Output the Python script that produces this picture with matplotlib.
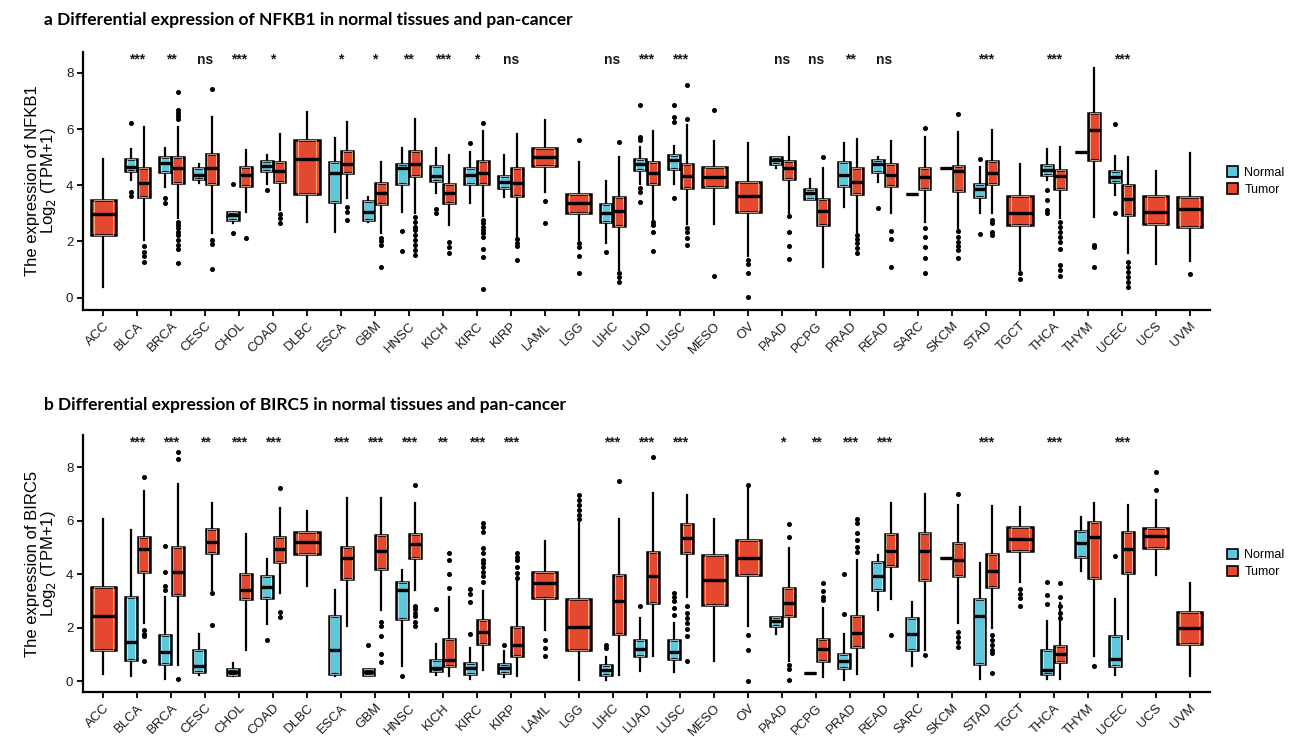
import matplotlib
matplotlib.use("Agg")
import matplotlib.pyplot as plt
from matplotlib.patches import Patch

CANCERS = ["ACC", "BLCA", "BRCA", "CESC", "CHOL", "COAD", "DLBC", "ESCA", "GBM", "HNSC",
           "KICH", "KIRC", "KIRP", "LAML", "LGG", "LIHC", "LUAD", "LUSC", "MESO", "OV",
           "PAAD", "PCPG", "PRAD", "READ", "SARC", "SKCM", "STAD", "TGCT", "THCA", "THYM",
           "UCEC", "UCS", "UVM"]

# ---- NFKB1 : (whislo, q1, median, q3, whishi) ----
NFKB1_TUMOR = {
    "ACC": (0.39, 2.22, 2.96, 3.46, 4.92), "BLCA": (2.05, 3.59, 4.09, 4.60, 6.08),
    "BRCA": (2.82, 4.09, 4.62, 4.99, 6.08), "CESC": (2.29, 4.03, 4.60, 5.11, 6.43),
    "CHOL": (3.03, 3.98, 4.36, 4.66, 5.25), "COAD": (3.12, 4.12, 4.50, 4.81, 5.81),
    "DLBC": (2.68, 3.68, 4.95, 5.60, 6.61), "ESCA": (3.53, 4.42, 4.77, 5.21, 6.26),
    "GBM": (2.29, 3.32, 3.71, 4.09, 4.83), "HNSC": (3.00, 4.34, 4.77, 5.23, 6.37),
    "KICH": (2.58, 3.35, 3.71, 4.06, 5.07), "KIRC": (2.90, 4.04, 4.44, 4.87, 5.92),
    "KIRP": (2.17, 3.63, 4.09, 4.63, 5.84), "LAML": (3.77, 4.69, 4.99, 5.34, 6.32),
    "LGG": (2.05, 3.02, 3.35, 3.68, 4.83), "LIHC": (0.98, 2.56, 3.09, 3.59, 5.01),
    "LUAD": (2.78, 4.03, 4.45, 4.83, 5.94), "LUSC": (2.61, 3.89, 4.32, 4.77, 6.14),
    "MESO": (2.62, 3.92, 4.30, 4.66, 5.57), "OV": (1.48, 3.06, 3.61, 4.10, 5.49),
    "PAAD": (3.00, 4.21, 4.60, 4.87, 5.72), "PCPG": (1.08, 2.58, 3.08, 3.50, 4.60),
    "PRAD": (2.35, 3.67, 4.12, 4.60, 5.64), "READ": (3.00, 3.98, 4.36, 4.77, 5.57),
    "SARC": (2.70, 3.86, 4.30, 4.63, 5.72), "SKCM": (2.49, 3.80, 4.50, 4.69, 5.90),
    "STAD": (3.00, 4.03, 4.44, 4.87, 5.96), "TGCT": (0.98, 2.58, 3.00, 3.61, 4.77),
    "THCA": (2.82, 3.86, 4.32, 4.54, 5.37), "THYM": (2.88, 4.89, 5.96, 6.58, 8.18),
    "UCEC": (1.58, 2.94, 3.50, 4.01, 5.01), "UCS": (1.19, 2.62, 3.06, 3.63, 4.51),
    "UVM": (1.32, 2.50, 3.14, 3.57, 5.13),
}
NFKB1_TUMOR_OUT = {
    "BLCA": [1.84, 1.64, 1.48, 1.28],
    "BRCA": [7.30, 6.69, 6.58, 6.46, 6.34, 2.70, 2.58, 2.46, 2.35, 2.23, 2.05, 1.87, 1.72, 1.24],
    "CESC": [7.42, 2.05, 1.91, 1.01], "CHOL": [2.13], "COAD": [2.96, 2.82, 2.67],
    "ESCA": [3.23, 3.06, 2.76], "GBM": [2.13, 2.01, 1.87, 1.10],
    "HNSC": [2.88, 2.70, 2.52, 2.41, 2.23, 2.05, 1.87, 1.69, 1.52],
    "KICH": [1.99, 1.81, 1.58],
    "KIRC": [6.23, 2.76, 2.64, 2.52, 2.41, 2.29, 2.17, 1.72, 1.46, 0.30],
    "KIRP": [2.07, 1.95, 1.84, 1.34], "LAML": [3.44, 2.67],
    "LGG": [5.60, 1.95, 1.81, 1.48, 0.89], "LIHC": [5.55, 0.86, 0.72, 0.55],
    "LUAD": [2.70, 2.58, 2.35, 1.66], "LUSC": [7.58, 6.37, 2.46, 2.35, 2.11, 1.87],
    "MESO": [6.69, 0.77], "OV": [1.34, 1.18, 0.86, 0.02],
    "PAAD": [2.91, 2.35, 1.85, 1.36], "PCPG": [5.01],
    "PRAD": [2.23, 2.09, 1.93, 1.78, 1.60], "READ": [2.37, 2.09, 1.10],
    "SARC": [6.05, 2.46, 2.17, 1.81, 1.40, 0.86],
    "SKCM": [6.55, 2.37, 2.17, 1.99, 1.84, 1.69, 1.40],
    "STAD": [2.76, 2.67, 2.35, 2.23], "TGCT": [0.86, 0.65],
    "THCA": [2.70, 2.52, 2.35, 2.17, 1.99, 1.72, 1.16, 0.98, 0.77],
    "THYM": [1.87, 1.81, 1.10], "UCEC": [1.28, 1.10, 0.92, 0.75, 0.57, 0.39],
    "UVM": [0.84],
}
NFKB1_NORMAL = {
    "BLCA": (4.18, 4.50, 4.66, 4.93, 5.30), "BRCA": (3.95, 4.48, 4.80, 4.99, 5.34),
    "CESC": (4.09, 4.21, 4.38, 4.60, 4.77), "CHOL": (2.64, 2.78, 2.94, 3.06, 3.06),
    "COAD": (4.04, 4.50, 4.69, 4.87, 5.07), "ESCA": (2.35, 3.39, 4.45, 4.83, 5.69),
    "GBM": (2.70, 2.76, 3.06, 3.44, 3.59), "HNSC": (3.06, 4.06, 4.62, 4.75, 5.34),
    "KICH": (3.71, 4.16, 4.32, 4.69, 5.31), "KIRC": (3.35, 4.04, 4.36, 4.60, 5.19),
    "KIRP": (3.59, 3.89, 4.12, 4.34, 5.07), "LIHC": (1.93, 2.68, 3.00, 3.32, 4.16),
    "LUAD": (4.06, 4.54, 4.74, 4.93, 5.37), "LUSC": (4.03, 4.56, 4.89, 5.07, 5.39),
    "PAAD": (4.62, 4.77, 4.89, 5.01, 5.01), "PCPG": (3.50, 3.50, 3.73, 3.85, 4.21),
    "PRAD": (3.23, 3.98, 4.36, 4.83, 5.51), "READ": (4.12, 4.48, 4.75, 4.89, 4.99),
    "SARC": (3.67, 3.67, 3.67, 3.67, 3.67), "SKCM": (4.63, 4.63, 4.63, 4.63, 4.63),
    "STAD": (3.02, 3.59, 3.85, 4.06, 4.66), "THCA": (4.18, 4.38, 4.54, 4.72, 5.28),
    "THYM": (5.19, 5.19, 5.19, 5.19, 5.19), "UCEC": (3.65, 4.13, 4.30, 4.51, 5.05),
}
NFKB1_NORMAL_OUT = {
    "BLCA": [6.22, 3.77, 3.63], "BRCA": [3.53, 3.35], "CHOL": [4.06, 2.29],
    "COAD": [3.83], "HNSC": [2.38, 1.67], "KICH": [3.14, 3.00], "KIRC": [5.49],
    "LIHC": [1.62], "LUAD": [6.87, 5.72, 5.60, 3.89, 3.77, 3.39],
    "LUSC": [6.87, 6.43, 6.26, 3.55], "READ": [3.20], "STAD": [4.95, 2.25],
    "THCA": [3.83, 3.47, 3.12, 3.00], "UCEC": [6.18, 3.00],
}
NFKB1_SIG = ["", "***", "**", "ns", "***", "*", "", "*", "*", "**",
             "***", "*", "ns", "", "", "ns", "***", "***", "", "",
             "ns", "ns", "**", "ns", "", "", "***", "", "***", "",
             "***", "", ""]

# ---- BIRC5 ----
BIRC5_TUMOR = {
    "ACC": (0.29, 1.18, 2.45, 3.52, 6.06), "BLCA": (2.18, 4.09, 4.94, 5.41, 7.13),
    "BRCA": (0.62, 3.23, 4.07, 5.04, 7.38), "CESC": (3.42, 4.81, 5.22, 5.68, 6.65),
    "CHOL": (1.16, 3.07, 3.40, 4.00, 5.51), "COAD": (3.30, 4.45, 4.96, 5.41, 6.47),
    "DLBC": (3.58, 4.75, 5.21, 5.57, 6.37), "ESCA": (2.05, 3.83, 4.60, 5.04, 6.85),
    "GBM": (2.67, 4.19, 4.89, 5.47, 6.84), "HNSC": (3.42, 4.60, 5.12, 5.51, 6.68),
    "KICH": (0.21, 0.56, 0.81, 1.58, 3.15), "KIRC": (0.44, 1.41, 1.83, 2.30, 3.36),
    "KIRP": (0.21, 0.93, 1.34, 2.03, 3.80), "LAML": (1.93, 3.11, 3.67, 4.08, 5.25),
    "LGG": (0.04, 1.16, 2.03, 3.07, 5.91), "LIHC": (0.25, 1.78, 2.99, 3.96, 6.06),
    "LUAD": (0.93, 2.92, 3.94, 4.83, 7.05), "LUSC": (3.17, 4.81, 5.37, 5.87, 6.97),
    "MESO": (0.75, 2.86, 3.77, 4.73, 6.07), "OV": (2.05, 3.96, 4.60, 5.29, 7.21),
    "PAAD": (0.75, 2.43, 2.92, 3.48, 4.98), "PCPG": (0.16, 0.75, 1.21, 1.58, 2.74),
    "PRAD": (0.29, 1.28, 1.80, 2.43, 4.54), "READ": (3.07, 4.33, 4.89, 5.51, 6.65),
    "SARC": (1.18, 3.79, 4.89, 5.56, 7.00), "SKCM": (2.18, 3.94, 4.54, 5.16, 6.59),
    "STAD": (1.99, 3.54, 4.14, 4.75, 6.57), "TGCT": (3.73, 4.89, 5.31, 5.76, 6.53),
    "THCA": (0.09, 0.71, 1.03, 1.33, 2.92), "THYM": (0.96, 3.88, 5.41, 5.95, 6.65),
    "UCEC": (1.58, 4.04, 4.94, 5.57, 6.59), "UCS": (3.98, 4.98, 5.44, 5.75, 6.78),
    "UVM": (0.21, 1.41, 2.01, 2.59, 3.67),
}
BIRC5_TUMOR_OUT = {
    "BLCA": [7.65, 1.90, 1.78, 1.68, 0.77], "BRCA": [8.58, 8.30, 0.10],
    "CESC": [3.30, 2.09], "COAD": [7.21, 2.59, 2.40],
    "GBM": [2.20, 2.05, 1.70, 1.02, 0.71],
    "HNSC": [7.34, 2.82, 2.70, 2.57, 2.45, 2.21, 2.08],
    "KICH": [4.81, 4.54, 4.00, 3.48],
    "KIRC": [5.91, 5.78, 5.60, 4.98, 4.79, 4.54, 4.42, 4.29, 4.10, 3.92, 3.73],
    "KIRP": [4.79, 4.66, 4.54, 4.29, 4.04, 3.86], "LAML": [1.55, 1.24, 0.96],
    "LGG": [6.97, 6.78, 6.59, 6.41, 6.22, 6.06], "LIHC": [7.50], "LUAD": [8.37],
    "LUSC": [2.82, 2.57, 2.36, 2.18, 1.95, 1.68, 0.77], "OV": [7.34, 1.74, 1.18, 0.0],
    "PAAD": [5.87, 5.39, 0.62, 0.46, 0.04], "PCPG": [3.69, 3.36, 3.17, 3.05],
    "PRAD": [6.06, 5.91, 5.53, 5.29, 5.04, 4.85], "READ": [1.74], "SARC": [0.99],
    "SKCM": [6.99, 1.83, 1.65, 1.46, 1.28],
    "STAD": [1.74, 1.55, 1.37, 1.18, 1.06, 0.31], "TGCT": [3.45, 3.26, 3.13, 2.80],
    "THCA": [3.69, 3.15, 2.80, 2.55, 2.36], "THYM": [0.58], "UCS": [7.84, 7.15],
}
BIRC5_NORMAL = {
    "BLCA": (0.21, 0.81, 1.46, 3.17, 5.66), "BRCA": (0.09, 0.65, 1.09, 1.74, 3.17),
    "CESC": (0.25, 0.34, 0.58, 1.18, 1.78), "CHOL": (0.21, 0.25, 0.35, 0.46, 0.68),
    "COAD": (2.14, 3.10, 3.52, 3.94, 4.58), "ESCA": (0.19, 0.29, 1.18, 2.46, 3.42),
    "GBM": (0.25, 0.25, 0.34, 0.46, 0.46), "HNSC": (0.58, 2.33, 3.40, 3.73, 4.17),
    "KICH": (0.25, 0.37, 0.50, 0.81, 1.41), "KIRC": (0.10, 0.29, 0.50, 0.68, 1.24),
    "KIRP": (0.16, 0.31, 0.50, 0.66, 1.12), "LIHC": (0.06, 0.25, 0.44, 0.62, 0.90),
    "LUAD": (0.37, 0.93, 1.21, 1.53, 2.36), "LUSC": (0.34, 0.85, 1.08, 1.53, 2.18),
    "PAAD": (1.78, 2.08, 2.24, 2.40, 2.40), "PCPG": (0.31, 0.31, 0.31, 0.31, 0.31),
    "PRAD": (0.04, 0.50, 0.77, 1.02, 1.78), "READ": (2.67, 3.42, 3.92, 4.45, 4.73),
    "SARC": (0.58, 1.18, 1.78, 2.36, 2.95), "SKCM": (4.60, 4.60, 4.60, 4.60, 4.60),
    "STAD": (0.09, 0.65, 2.45, 3.07, 4.44), "THCA": (0.09, 0.29, 0.41, 1.16, 2.24),
    "THYM": (4.14, 4.66, 5.19, 5.63, 6.13), "UCEC": (0.25, 0.56, 0.85, 1.70, 3.08),
}
BIRC5_NORMAL_OUT = {
    "BRCA": [5.06, 4.08, 3.57, 3.42], "COAD": [1.55], "GBM": [1.34], "HNSC": [0.21],
    "KICH": [2.70], "KIRC": [3.46, 3.26, 2.95, 1.78], "KIRP": [1.34],
    "LIHC": [1.37, 1.24], "LUAD": [2.82], "LUSC": [3.32, 3.17, 2.99, 2.74, 2.49],
    "PRAD": [4.00, 2.52], "THCA": [3.73, 3.23, 2.89], "UCEC": [4.70],
}
BIRC5_SIG = ["", "***", "***", "**", "***", "***", "", "***", "***", "***",
             "**", "***", "***", "", "", "***", "***", "***", "", "",
             "*", "**", "***", "***", "", "", "***", "", "***", "",
             "***", "", ""]

NORMAL_COLOR = "#5CC8DC"
TUMOR_COLOR = "#E4492F"

W, H = 1291, 737
fig = plt.figure(figsize=(W / 100, H / 100), dpi=100)


def stats_of(tup, outs):
    lo, q1, med, q3, hi = tup
    return dict(whislo=lo, q1=q1, med=med, q3=q3, whishi=hi, fliers=outs)


def draw_group(ax, stats, positions, width, color):
    if not stats:
        return
    ax.bxp(stats, positions=positions, widths=width, patch_artist=True,
           showcaps=False, manage_ticks=False,
           boxprops=dict(facecolor=color, edgecolor="black", linewidth=1.8),
           medianprops=dict(color="black", linewidth=2.4, solid_capstyle="butt"),
           whiskerprops=dict(color="black", linewidth=1.6),
           flierprops=dict(marker="o", markerfacecolor="black", markeredgecolor="black",
                           markersize=2.6, linestyle="none"))
    # lighter inner outline (as in the reference rendering)
    ax.bxp(stats, positions=positions, widths=width * 0.72, patch_artist=True,
           showcaps=False, showfliers=False, manage_ticks=False,
           boxprops=dict(facecolor="none",
                         edgecolor="#FFD9A8" if color == TUMOR_COLOR else "#D8F6FF",
                         linewidth=0.5),
           medianprops=dict(color="none", linewidth=0),
           whiskerprops=dict(color="none", linewidth=0))


def panel(rect, tumor, tumor_out, normal, normal_out, sig, gene, title, title_y, sig_y, ylim):
    ax = fig.add_axes(rect)
    n_pos, n_stats, t_pos, t_stats, s_pos, s_stats = [], [], [], [], [], []
    for i, c in enumerate(CANCERS):
        if c in normal:
            n_pos.append(i - 0.19)
            n_stats.append(stats_of(normal[c], normal_out.get(c, [])))
            t_pos.append(i + 0.19)
            t_stats.append(stats_of(tumor[c], tumor_out.get(c, [])))
        else:
            s_pos.append(i)
            s_stats.append(stats_of(tumor[c], tumor_out.get(c, [])))
    draw_group(ax, n_stats, n_pos, 0.35, NORMAL_COLOR)
    draw_group(ax, t_stats, t_pos, 0.35, TUMOR_COLOR)
    draw_group(ax, s_stats, s_pos, 0.75, TUMOR_COLOR)

    for i, s in enumerate(sig):
        if s:
            ax.text(i, sig_y, s, ha="center", va="center", fontsize=10, fontweight="bold",
                    family="Liberation Sans", color="#1a1a1a")

    ax.set_xlim(-0.6, len(CANCERS) - 0.4)
    ax.set_ylim(*ylim)
    ax.set_xticks(range(len(CANCERS)))
    ax.set_xticklabels(CANCERS, rotation=45, ha="right", rotation_mode="anchor",
                       fontsize=9.5, family="Liberation Sans", color="#1a1a1a")
    ax.set_yticks([0, 2, 4, 6, 8])
    ax.set_yticklabels(["0", "2", "4", "6", "8"], fontsize=9.5, family="Liberation Sans",
                       color="#1a1a1a")
    ax.tick_params(axis="both", direction="out", length=4, width=1.3, color="black", pad=3)
    for side in ("top", "right"):
        ax.spines[side].set_visible(False)
    for side in ("left", "bottom"):
        ax.spines[side].set_linewidth(1.6)
    ax.set_ylabel("The expression of " + gene + "\nLog$_2$ (TPM+1)", fontsize=12,
                  family="Liberation Sans", labelpad=6, linespacing=0.92)
    fig.text(44 / W, 1 - title_y / H, title, fontsize=12.5, fontweight="bold",
             family="Lato", ha="left", va="center")

    handles = [Patch(facecolor=NORMAL_COLOR, edgecolor="black", linewidth=1.2, label="Normal"),
               Patch(facecolor=TUMOR_COLOR, edgecolor="black", linewidth=1.2, label="Tumor")]
    ax.legend(handles=handles, loc="center left", bbox_to_anchor=(1.005, 0.5),
              frameon=False, handlelength=0.9, handleheight=0.9, handletextpad=0.5,
              labelspacing=0.35, prop=dict(family="Liberation Sans", size=9))
    return ax


panel([83 / W, 1 - 310 / H, (1210 - 83) / W, (310 - 52) / H],
      NFKB1_TUMOR, NFKB1_TUMOR_OUT, NFKB1_NORMAL, NFKB1_NORMAL_OUT, NFKB1_SIG,
      "NFKB1", "a Differential expression of NFKB1 in normal tissues and pan-cancer",
      20, 8.47, (-0.44, 8.74))
panel([83 / W, 1 - 692 / H, (1210 - 83) / W, (692 - 435) / H],
      BIRC5_TUMOR, BIRC5_TUMOR_OUT, BIRC5_NORMAL, BIRC5_NORMAL_OUT, BIRC5_SIG,
      "BIRC5", "b Differential expression of BIRC5 in normal tissues and pan-cancer",
      405, 8.92, (-0.40, 9.21))

fig.savefig("out.png", dpi=100)
